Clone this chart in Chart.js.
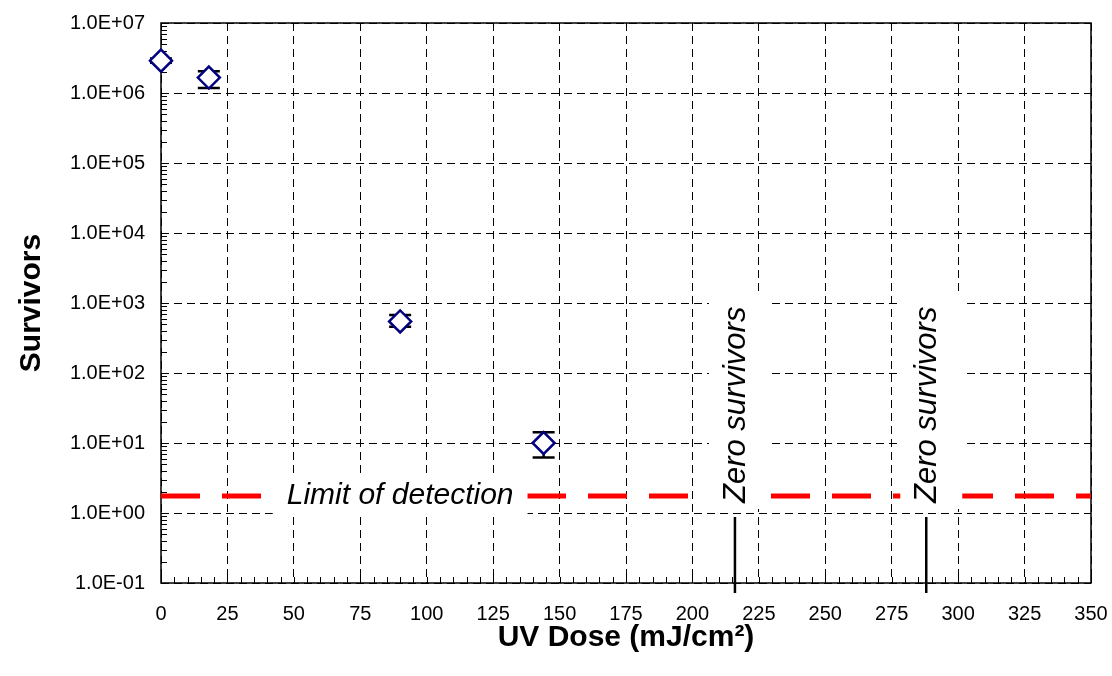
<!DOCTYPE html>
<html>
<head>
<meta charset="utf-8">
<script src="https://cdn.jsdelivr.net/npm/chart.js@4/dist/chart.umd.min.js"></script>
<style>
  html, body { margin: 0; padding: 0; background: #fff; }
  #wrap { width: 1112px; height: 676px; position: relative; }
</style>
</head>
<body>
<div id="wrap"><canvas id="chart"></canvas></div>
<script>
// data
const doses = [0, 18, 90, 144];
const survivors = [2.9e6, 1.66e6, 545, 10];
const errLow = [2.7e6, 1.18e6, 458, 6.2];
const errHigh = [3.1e6, 2.05e6, 674, 14.2];
const zeroDoses = [216, 288];
const detectionLimit = 1.75;
const detectionLabelDose = 90;

const xTicks = [0, 25, 50, 75, 100, 125, 150, 175, 200, 225, 250, 275, 300, 325, 350];
const yTicks = [0.1, 1, 10, 1e2, 1e3, 1e4, 1e5, 1e6, 1e7];
const yTickLabels = ['1.0E-01', '1.0E+00', '1.0E+01', '1.0E+02', '1.0E+03', '1.0E+04', '1.0E+05', '1.0E+06', '1.0E+07'];

const FONT = '"Liberation Sans", Arial, sans-serif';

// error bars, label boxes, frame and inner ticks
const extras = {
	id: 'extras',
	beforeDatasetsDraw(chart) {
		const { ctx, chartArea: a, scales: { x: xs, y: ys } } = chart;
		ctx.save();
		ctx.strokeStyle = '#000';
		ctx.lineWidth = 1;
		ctx.beginPath();
		// x minor ticks every 5
		for (let v = 0; v <= 350; v += 5) {
			const px = Math.round(xs.getPixelForValue(v)) + 0.5;
			ctx.moveTo(px, a.bottom);
			ctx.lineTo(px, a.bottom - 6);
		}
		// y minor ticks 1..9 per decade
		for (let e = -1; e < 7; e++) {
			for (let m = 1; m <= 9; m++) {
				const py = Math.round(ys.getPixelForValue(m * Math.pow(10, e))) + 0.5;
				ctx.moveTo(a.left, py);
				ctx.lineTo(a.left + 6, py);
			}
		}
		ctx.stroke();
		ctx.lineWidth = 1.5;
		ctx.strokeRect(a.left, a.top, a.right - a.left, a.bottom - a.top);
		ctx.restore();
	},
	afterDatasetDraw(chart, args) {
		if (args.index !== 1) return;
		const { ctx, chartArea: a, scales: { x: xs, y: ys } } = chart;
		const yLod = ys.getPixelForValue(detectionLimit);
		ctx.save();
		ctx.font = 'italic 30px ' + FONT;

		// limit of detection label
		const label = 'Limit of detection';
		const w = ctx.measureText(label).width;
		const cx = xs.getPixelForValue(detectionLabelDose);
		ctx.fillStyle = '#fff';
		ctx.fillRect(cx - w / 2 - 14, yLod - 18, w + 28, 38);
		ctx.fillStyle = '#000';
		ctx.textAlign = 'center';
		ctx.textBaseline = 'middle';
		ctx.fillText(label, cx, yLod);

		// zero survivors labels and markers
		ctx.font = 'italic 31px ' + FONT;
		const zl = 'Zero survivors';
		const tw = ctx.measureText(zl).width;
		zeroDoses.forEach((d) => {
			const px = xs.getPixelForValue(d);
			const bottom = yLod + 7;
			ctx.fillStyle = '#fff';
			ctx.fillRect(px - 26, bottom - tw - 14, 62, tw + 20);
			ctx.save();
			ctx.translate(px + 1, bottom);
			ctx.rotate(-Math.PI / 2);
			ctx.fillStyle = '#000';
			ctx.textAlign = 'left';
			ctx.textBaseline = 'middle';
			ctx.fillText(zl, 0, 0);
			ctx.restore();
			ctx.strokeStyle = '#000';
			ctx.lineWidth = 2.5;
			ctx.beginPath();
			ctx.moveTo(px, yLod + 21);
			ctx.lineTo(px, a.bottom + 10);
			ctx.stroke();
		});

		// error bars
		ctx.strokeStyle = '#000';
		ctx.lineWidth = 2.5;
		ctx.beginPath();
		doses.forEach((d, i) => {
			const px = xs.getPixelForValue(d);
			const lo = ys.getPixelForValue(errLow[i]);
			const hi = ys.getPixelForValue(errHigh[i]);
			ctx.moveTo(px, lo); ctx.lineTo(px, hi);
			ctx.moveTo(px - 11, lo); ctx.lineTo(px + 11, lo);
			ctx.moveTo(px - 11, hi); ctx.lineTo(px + 11, hi);
		});
		ctx.stroke();
		ctx.restore();
	}
};

const ctx = document.getElementById('chart').getContext('2d');

const chart = new Chart(ctx, {
	type: 'scatter',
	data: {
		datasets: [
			{
				label: 'Survivors',
				data: doses.map((d, i) => ({ x: d, y: survivors[i] })),
				pointStyle: 'rectRot',
				pointRadius: 11,
				pointHoverRadius: 11,
				pointBorderWidth: 2.5,
				pointBorderColor: '#000080',
				pointBackgroundColor: '#fff',
				clip: false,
				order: 0
			},
			{
				label: 'Limit of detection',
				data: [{ x: 0, y: detectionLimit }, { x: 350, y: detectionLimit }],
				showLine: true,
				borderColor: '#ff0000',
				borderWidth: 5,
				borderDash: [39, 22],
				borderCapStyle: 'butt',
				pointRadius: 0,
				order: 1
			}
		]
	},
	plugins: [extras],
	options: {
		responsive: true,
		maintainAspectRatio: false,
		animation: false,
		layout: { padding: { left: 0, right: 21, top: 23, bottom: 0 } },
		plugins: {
			legend: { display: false },
			tooltip: { enabled: false }
		},
		scales: {
			x: {
				type: 'linear',
				min: 0,
				max: 350,
				afterBuildTicks: (s) => { s.ticks = xTicks.map((v) => ({ value: v })); },
				afterFit: (s) => { s.height = 93; s.paddingLeft = 0; s.paddingRight = 0; },
				ticks: { color: '#000', font: { family: FONT, size: 20 }, padding: 19, autoSkip: false, maxRotation: 0 },
				grid: { color: '#000', lineWidth: 1, drawTicks: false },
				border: { display: false, dash: [8, 5] },
				title: {
					display: true,
					text: 'UV Dose (mJ/cm²)',
					color: '#000',
					font: { family: FONT, size: 30, weight: 'bold' },
					padding: { top: 0, bottom: 20 }
				}
			},
			y: {
				type: 'logarithmic',
				min: 0.1,
				max: 1e7,
				afterBuildTicks: (s) => { s.ticks = yTicks.map((v) => ({ value: v })); },
				afterFit: (s) => { s.width = 161; s.paddingTop = 0; s.paddingBottom = 0; },
				ticks: {
					color: '#000',
					font: { family: FONT, size: 20 },
					padding: 16,
					autoSkip: false,
					callback: (value, index) => yTickLabels[index]
				},
				grid: { color: '#000', lineWidth: 1, drawTicks: false },
				border: { display: false, dash: [8, 5] },
				title: {
					display: true,
					text: 'Survivors',
					color: '#000',
					font: { family: FONT, size: 30, weight: 'bold' },
					padding: { top: 14, bottom: 0 }
				}
			}
		}
	}
});
</script>
</body>
</html>
